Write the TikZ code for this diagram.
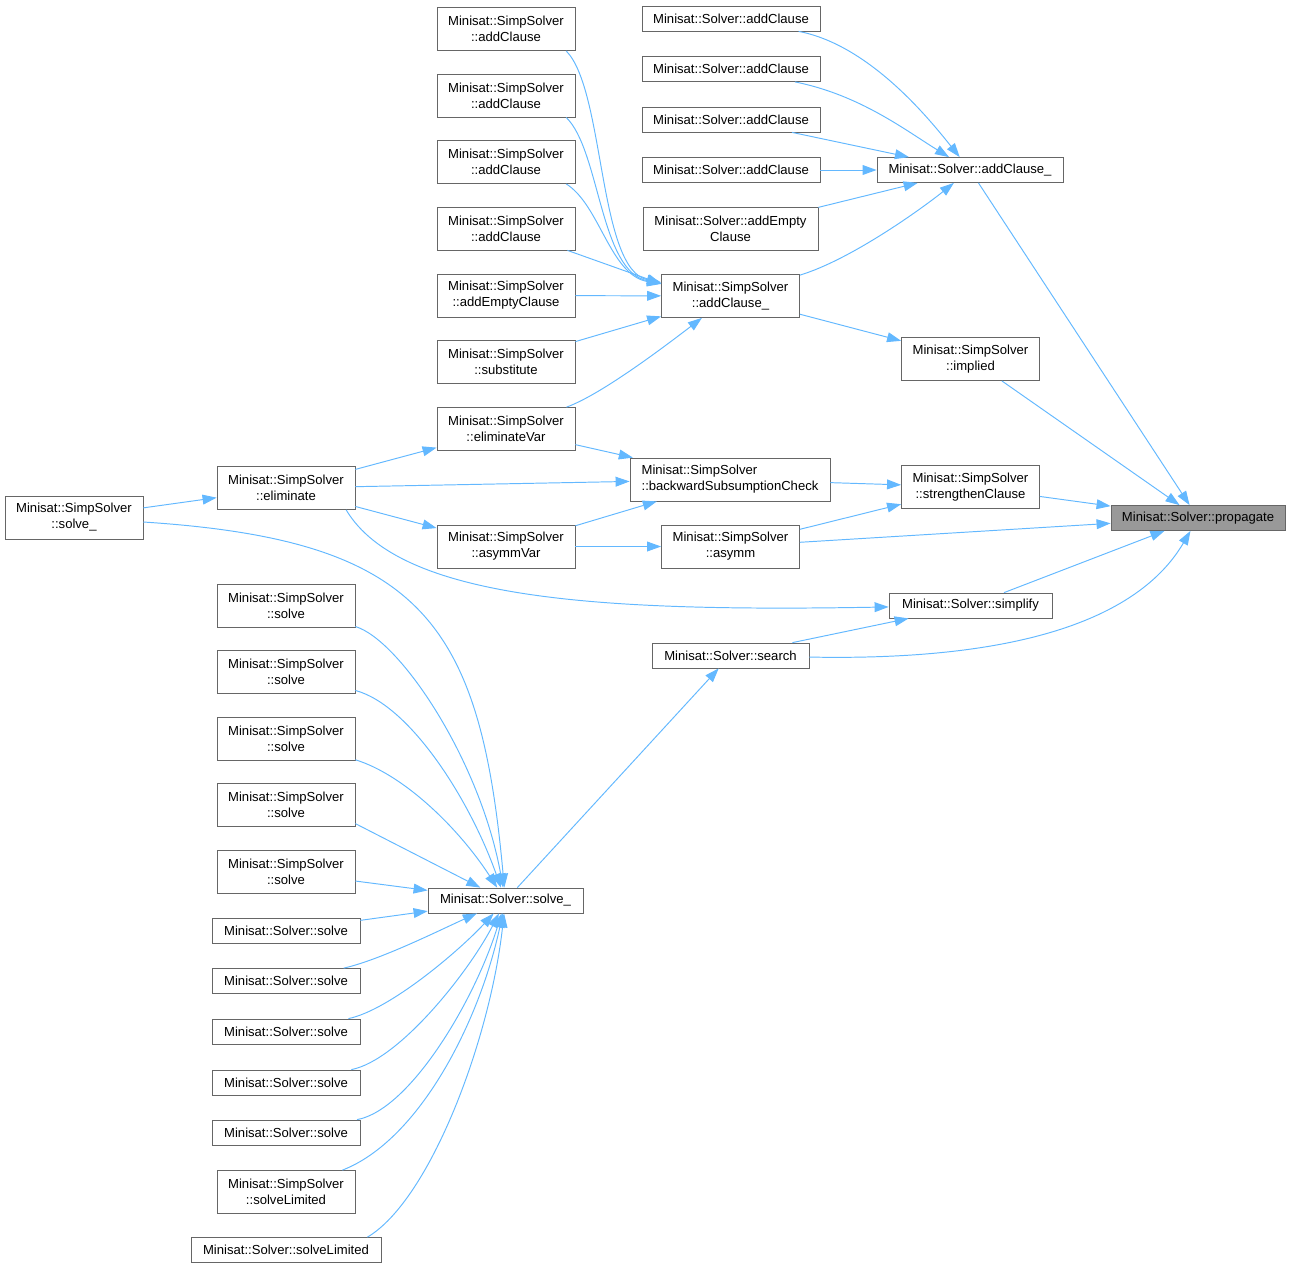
\documentclass[tikz,border=0pt]{standalone}
\usepackage{fontspec}
\setmainfont{Liberation Sans}
\usepackage{xcolor}
\usetikzlibrary{arrows.meta}
\definecolor{edgeblue}{HTML}{63B8FF}
\definecolor{boxgray}{HTML}{666666}
\definecolor{propgray}{HTML}{999999}

\begin{document}
\begin{tikzpicture}[x=0.02cm,y=-0.02cm,
  box/.style={draw=boxgray,fill=white,line width=0.45pt,inner sep=0pt,align=center,
    font=\fontsize{7.45}{9.1}\selectfont,minimum height=0.5cm},
  two/.style={minimum height=0.86cm},
  simp/.style={box,two,minimum width=2.76cm},
  call/.style={draw=edgeblue,line width=0.55pt,-{Triangle[length=8pt,width=5.6pt]}}]
  \useasboundingbox (0,0) rectangle (1291,1269);
  % Right column
  \node[box,fill=propgray,minimum width=3.48cm] (propagate) at (1198,518) {Minisat::Solver::propagate};
  \node[box,minimum width=3.72cm] (addClauseS) at (970,170) {Minisat::Solver::addClause\_};
  \node[simp] (implied) at (970.5,359) {Minisat::SimpSolver\\::implied};
  \node[simp] (strengthen) at (970.5,487) {Minisat::SimpSolver\\::strengthenClause};
  \node[box,minimum width=3.26cm] (simplify) at (970.5,605.5) {Minisat::Solver::simplify};
  % Middle column
  \node[box,minimum width=3.56cm] (sAddA) at (731,18.5) {Minisat::Solver::addClause};
  \node[box,minimum width=3.56cm] (sAddB) at (731,69) {Minisat::Solver::addClause};
  \node[box,minimum width=3.56cm] (sAddC) at (731,119.5) {Minisat::Solver::addClause};
  \node[box,minimum width=3.56cm] (sAddD) at (731,170) {Minisat::Solver::addClause};
  \node[box,two,minimum width=3.5cm] (sAddEmpty) at (730.5,229) {Minisat::Solver::addEmpty\\Clause};
  \node[simp] (addClauseSS) at (730.5,296) {Minisat::SimpSolver\\::addClause\_};
  \node[box,two,minimum width=4cm,align=left] (backward) at (730,479.5) {Minisat::SimpSolver\\::backwardSubsumptionCheck};
  \node[simp] (asymm) at (730.5,546.5) {Minisat::SimpSolver\\::asymm};
  \node[box,minimum width=3.14cm] (search) at (730.5,655.5) {Minisat::Solver::search};
  % SimpSolver column
  \node[simp] (ssAddA) at (506,29) {Minisat::SimpSolver\\::addClause};
  \node[simp] (ssAddB) at (506,95.5) {Minisat::SimpSolver\\::addClause};
  \node[simp] (ssAddC) at (506,162) {Minisat::SimpSolver\\::addClause};
  \node[simp] (ssAddD) at (506,228.5) {Minisat::SimpSolver\\::addClause};
  \node[simp] (ssAddEmpty) at (506,295.5) {Minisat::SimpSolver\\::addEmptyClause};
  \node[simp] (substitute) at (506,362) {Minisat::SimpSolver\\::substitute};
  \node[simp] (eliminateVar) at (506,429) {Minisat::SimpSolver\\::eliminateVar};
  \node[simp] (asymmVar) at (506,546.5) {Minisat::SimpSolver\\::asymmVar};
  \node[simp] (eliminate) at (286,488) {Minisat::SimpSolver\\::eliminate};
  \node[simp] (ssSolveU) at (74,517.5) {Minisat::SimpSolver\\::solve\_};
  \node[box,minimum width=3.1cm] (solveU) at (505.5,900.5) {Minisat::Solver::solve\_};
  % Callers of solve_
  \node[simp] (ssSolveA) at (286,605.5) {Minisat::SimpSolver\\::solve};
  \node[simp] (ssSolveB) at (286,672) {Minisat::SimpSolver\\::solve};
  \node[simp] (ssSolveC) at (286,738.5) {Minisat::SimpSolver\\::solve};
  \node[simp] (ssSolveD) at (286,805) {Minisat::SimpSolver\\::solve};
  \node[simp] (ssSolveE) at (286,872) {Minisat::SimpSolver\\::solve};
  \node[box,minimum width=2.96cm] (sSolveA) at (286,930.5) {Minisat::Solver::solve};
  \node[box,minimum width=2.96cm] (sSolveB) at (286,981) {Minisat::Solver::solve};
  \node[box,minimum width=2.96cm] (sSolveC) at (286,1031.5) {Minisat::Solver::solve};
  \node[box,minimum width=2.96cm] (sSolveD) at (286,1082.5) {Minisat::Solver::solve};
  \node[box,minimum width=2.96cm] (sSolveE) at (286,1132.5) {Minisat::Solver::solve};
  \node[simp] (ssLimited) at (286,1192) {Minisat::SimpSolver\\::solveLimited};
  \node[box,minimum width=3.8cm] (sLimited) at (286,1250) {Minisat::Solver::solveLimited};
  % Calls into propagate
  \draw[call] (addClauseS) -- (propagate);
  \draw[call] (implied) -- (propagate);
  \draw[call] (strengthen) -- (propagate);
  \draw[call] (asymm) -- (propagate);
  \draw[call] (simplify) -- (propagate);
  \draw[call] (search) .. controls (1060,662) and (1150,600) .. (propagate);
  % Calls into Solver::addClause_
  \draw[call] (sAddA) .. controls (870,45) and (930,120) .. (addClauseS);
  \draw[call] (sAddB) .. controls (860,95) and (905,130) .. (addClauseS);
  \draw[call] (sAddC) -- (addClauseS);
  \draw[call] (sAddD) -- (addClauseS);
  \draw[call] (sAddEmpty) -- (addClauseS);
  \draw[call] (addClauseSS) .. controls (850,260) and (920,210) .. (addClauseS);
  \draw[call] (addClauseSS) -- (implied);
  % Calls into SimpSolver::addClause_
  \draw[call] (ssAddA.-20) .. controls (605,90) and (598,270) .. (addClauseSS);
  \draw[call] (ssAddB.-20) .. controls (600,150) and (600,272) .. (addClauseSS);
  \draw[call] (ssAddC.-20) .. controls (600,205) and (610,275) .. (addClauseSS);
  \draw[call] (ssAddD) -- (addClauseSS.170);
  \draw[call] (ssAddEmpty) -- (addClauseSS);
  \draw[call] (substitute) -- (addClauseSS);
  \draw[call] (eliminateVar) .. controls (600,395) and (660,350) .. (addClauseSS);
  % Subsumption and asymm
  \draw[call] (eliminateVar) -- (backward);
  \draw[call] (eliminate) -- (backward);
  \draw[call] (asymmVar) -- (backward);
  \draw[call] (backward) -- (strengthen);
  \draw[call] (asymmVar) -- (asymm);
  \draw[call] (asymm) -- (strengthen);
  \draw[call] (eliminate) -- (eliminateVar);
  \draw[call] (eliminate) -- (asymmVar);
  \draw[call] (eliminate.-20) .. controls (400,600) and (600,612) .. (simplify);
  \draw[call] (ssSolveU) -- (eliminate);
  \draw[call] (ssSolveU) .. controls (420,540) and (480,620) .. (solveU);
  \draw[call] (search) -- (simplify);
  \draw[call] (solveU) -- (search);
  % Calls into Solver::solve_
  \draw[call] (ssSolveA) .. controls (400,640) and (480,760) .. (solveU);
  \draw[call] (ssSolveB) .. controls (410,705) and (470,800) .. (solveU);
  \draw[call] (ssSolveC) .. controls (405,775) and (460,830) .. (solveU);
  \draw[call] (ssSolveD.-15) -- (solveU);
  \draw[call] (ssSolveE) -- (solveU);
  \draw[call] (sSolveA) -- (solveU);
  \draw[call] (sSolveB) .. controls (380,960) and (440,930) .. (solveU);
  \draw[call] (sSolveC) .. controls (390,1010) and (460,950) .. (solveU);
  \draw[call] (sSolveD) .. controls (400,1060) and (470,970) .. (solveU);
  \draw[call] (sSolveE) .. controls (410,1110) and (475,1000) .. (solveU);
  \draw[call] (ssLimited) .. controls (420,1140) and (480,1020) .. (solveU);
  \draw[call] (sLimited.9) .. controls (430,1200) and (490,1040) .. (solveU);
\end{tikzpicture}
\end{document}
